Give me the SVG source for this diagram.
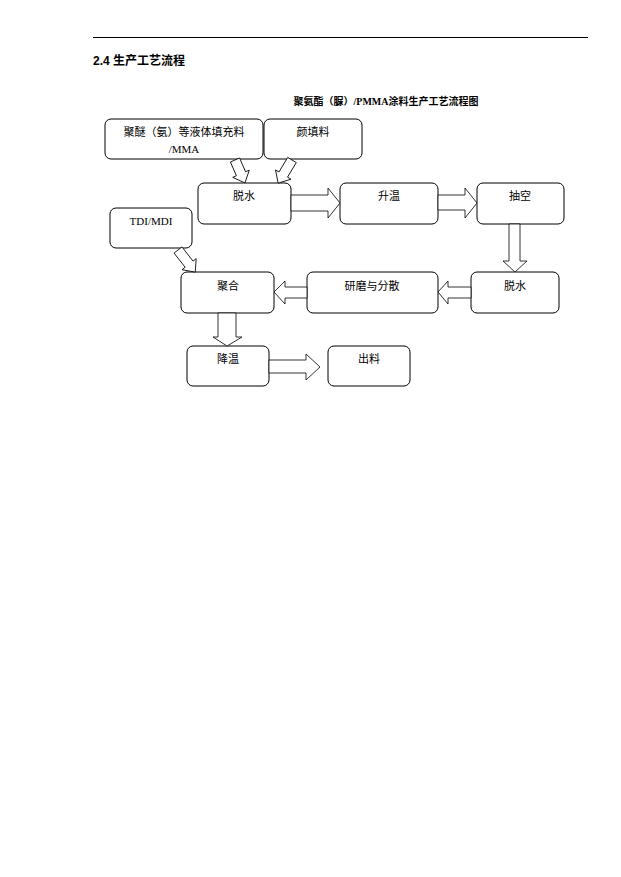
<svg xmlns="http://www.w3.org/2000/svg" width="621" height="877" viewBox="0 0 621 877">
<style>
.b{fill:#fff;stroke:#000;stroke-width:1}
.t{font-family:"Liberation Serif","Noto Sans CJK SC",serif;font-size:11px;fill:#000;text-anchor:middle}
.a{fill:#fff;stroke:#000;stroke-width:0.8}
</style>
<rect width="621" height="877" fill="#fff"/>
<line x1="93" y1="37.5" x2="588" y2="37.5" stroke="#000" stroke-width="1"/>
<text x="93" y="65" font-family="Liberation Sans,'Noto Sans CJK SC',sans-serif" font-size="12" font-weight="bold">2.4 生产工艺流程</text>
<text x="386" y="105" font-family="Liberation Serif,'Noto Sans CJK SC',serif" font-size="10" font-weight="bold" text-anchor="middle">聚氨酯（脲）/PMMA涂料生产工艺流程图</text>
<g id="n1"><rect class="b" x="105" y="119" width="158" height="40" rx="6"/><text class="t" x="184" y="136">聚醚（氨）等液体填充料</text><text class="t" x="184" y="153">/MMA</text></g>
<g id="n2"><rect class="b" x="264" y="119" width="98" height="40" rx="6"/><text class="t" x="313" y="136">颜填料</text></g>
<g id="n3"><rect class="b" x="198" y="183" width="93" height="41" rx="6"/><text class="t" x="244" y="200">脱水</text></g>
<g id="n4"><rect class="b" x="340" y="183" width="98" height="41" rx="6"/><text class="t" x="389" y="200">升温</text></g>
<g id="n5"><rect class="b" x="477" y="183" width="87" height="41" rx="6"/><text class="t" x="520" y="200">抽空</text></g>
<g id="n6"><rect class="b" x="110" y="208" width="82" height="40" rx="6"/><text class="t" x="151" y="225">TDI/MDI</text></g>
<g id="n7"><rect class="b" x="181" y="272" width="93" height="41" rx="6"/><text class="t" x="228" y="290">聚合</text></g>
<g id="n8"><rect class="b" x="307" y="272" width="131" height="41" rx="6"/><text class="t" x="372" y="290">研磨与分散</text></g>
<g id="n9"><rect class="b" x="471" y="272" width="88" height="41" rx="6"/><text class="t" x="515" y="290">脱水</text></g>
<g id="n10"><rect class="b" x="187" y="346" width="82" height="40" rx="6"/><text class="t" x="228" y="363">降温</text></g>
<g id="n11"><rect class="b" x="328" y="346" width="82" height="40" rx="6"/><text class="t" x="369" y="363">出料</text></g>
<g id="connectors">
<polygon class="a" points="291,195 328,195 328,188 340,203 328,218 328,211 291,211"/>
<polygon class="a" points="438,195 465,195 465,188 477,203 465,218 465,210 438,210"/>
<polygon class="a" points="509,224 520,224 520,261 527,261 515,272 503,261 509,261"/>
<polygon class="a" points="471,287 448,287 448,281 438,292 448,304 448,298 471,298"/>
<polygon class="a" points="307,287 285,287 285,281 274,292 285,304 285,298 307,298"/>
<polygon class="a" points="218,313 236,313 236,337 242,337 227,346 213,337 218,337"/>
<polygon class="a" points="269,360 306,360 306,354 320,367 306,380 306,373 269,373"/>
<polygon class="a" points="0,-5 15,-5 15,-9 25,0 15,9 15,5 0,5" transform="translate(235,160) rotate(66.5)"/>
<polygon class="a" points="0,-5 17,-5 17,-9 27,0 17,9 17,5 0,5" transform="translate(292,160) rotate(121)"/>
<polygon class="a" points="0,-5 18,-5 18,-9 28,0 18,9 18,5 0,5" transform="translate(178,250) rotate(52)"/>
</g>
</svg>
